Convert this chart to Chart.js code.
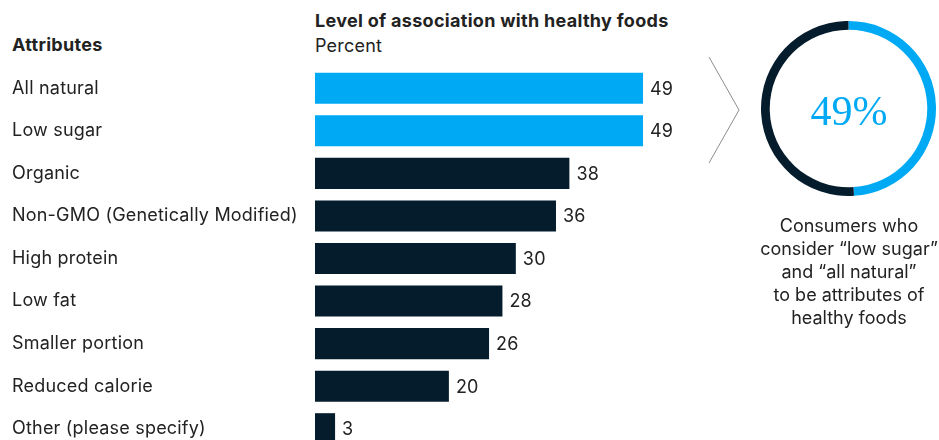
<!DOCTYPE html>
<html>
<head>
<meta charset="utf-8">
<script src="https://cdn.jsdelivr.net/npm/chart.js@4.4.0/dist/chart.umd.min.js"></script>
<style>
  html, body { margin: 0; padding: 0; background: #fff; overflow: hidden; }
  body { width: 939px; height: 440px; position: relative; font-family: Inter, Roboto, sans-serif; color: #222; }
  #barWrap { position: absolute; left: 0; top: 0; width: 720px; height: 470px; }
  #donutWrap { position: absolute; left: 761px; top: 21px; width: 175px; height: 175px; }
  .txt { position: absolute; font-size: 18px; line-height: 23px; white-space: nowrap; letter-spacing: 0.2px; }
  .bold { font-weight: 700; letter-spacing: 0.3px; }
  #note { position: absolute; left: 749px; top: 214px; width: 200px; text-align: center; font-size: 18px; line-height: 23px; color: #222; }
  #pct { position: absolute; left: 749px; top: 86px; width: 200px; text-align: center; font-family: "Liberation Serif", "DejaVu Serif", serif; font-size: 42px; line-height: 50px; color: #00a9f4; }
  svg { position: absolute; left: 0; top: 0; }
</style>
</head>
<body>
<div class="txt bold" style="left:12px; top:33px;">Attributes</div>
<div class="txt bold" style="left:315px; top:9px;">Level of association with healthy foods</div>
<div class="txt" style="left:315px; top:34px;">Percent</div>

<div id="barWrap"><canvas id="barChart"></canvas></div>

<svg width="939" height="440">
  <polyline points="709,57 739,110 709,163" fill="none" stroke="#8c8c8c" stroke-width="1"/>
</svg>

<div id="donutWrap"><canvas id="donutChart"></canvas></div>
<div id="pct">49%</div>
<div id="note">Consumers who<br>consider “low sugar”<br>and “all natural”<br>to be attributes of<br>healthy foods</div>

<script>
// -------------------------
// Data
// -------------------------
const attributes = [
    'All natural',
    'Low sugar',
    'Organic',
    'Non-GMO (Genetically Modified)',
    'High protein',
    'Low fat',
    'Smaller portion',
    'Reduced calorie',
    'Other (please specify)'
];
const shares = [49, 49, 38, 36, 30, 28, 26, 20, 3];
const highlighted = [true, true, false, false, false, false, false, false, false];

const donutLabels = ['Low sugar and all natural', 'Other'];
const donutValues = [49, 51];

const BLUE = '#00a9f4';
const NAVY = '#051c2c';
const FONT = 'Inter, Roboto, sans-serif';

// a touch of tracking so canvas text matches the html text
const tracking = {
    id: 'tracking',
    beforeDraw(chart) {
        chart.ctx.letterSpacing = '0.2px';
    }
};

// -------------------------
// Value labels at bar ends
// -------------------------
const valueLabels = {
    id: 'valueLabels',
    afterDatasetsDraw(chart) {
        const ctx = chart.ctx;
        const meta = chart.getDatasetMeta(0);
        ctx.save();
        ctx.font = '18px ' + FONT;
        ctx.fillStyle = '#222';
        ctx.textAlign = 'left';
        ctx.textBaseline = 'middle';
        meta.data.forEach((bar, i) => {
            ctx.fillText(String(shares[i]), bar.x + 7, bar.y + 1);
        });
        ctx.restore();
    }
};

// -------------------------
// Bar chart
// -------------------------
new Chart(document.getElementById('barChart'), {
    type: 'bar',
    data: {
        labels: attributes,
        datasets: [{
            data: shares,
            backgroundColor: highlighted.map(h => h ? BLUE : NAVY),
            barPercentage: 1,
            categoryPercentage: 0.73,
            borderWidth: 0
        }]
    },
    options: {
        indexAxis: 'y',
        responsive: true,
        maintainAspectRatio: false,
        animation: false,
        layout: { padding: { left: 12, right: 0, top: 67, bottom: 20 } },
        plugins: {
            legend: { display: false },
            tooltip: { enabled: false }
        },
        scales: {
            x: {
                display: false,
                min: 0,
                max: 60.5
            },
            y: {
                grid: { display: false },
                border: { display: false },
                afterFit(scale) { scale.width = 303; },
                ticks: {
                    crossAlign: 'far',
                    color: '#222',
                    padding: 0,
                    font: { family: FONT, size: 18 }
                }
            }
        }
    },
    plugins: [tracking, valueLabels]
});

// -------------------------
// Donut
// -------------------------
new Chart(document.getElementById('donutChart'), {
    type: 'doughnut',
    data: {
        labels: donutLabels,
        datasets: [{
            data: donutValues,
            backgroundColor: [BLUE, NAVY],
            borderWidth: 0
        }]
    },
    options: {
        responsive: true,
        maintainAspectRatio: false,
        animation: false,
        cutout: '90%',
        plugins: {
            legend: { display: false },
            tooltip: { enabled: false }
        }
    }
});
</script>
</body>
</html>
